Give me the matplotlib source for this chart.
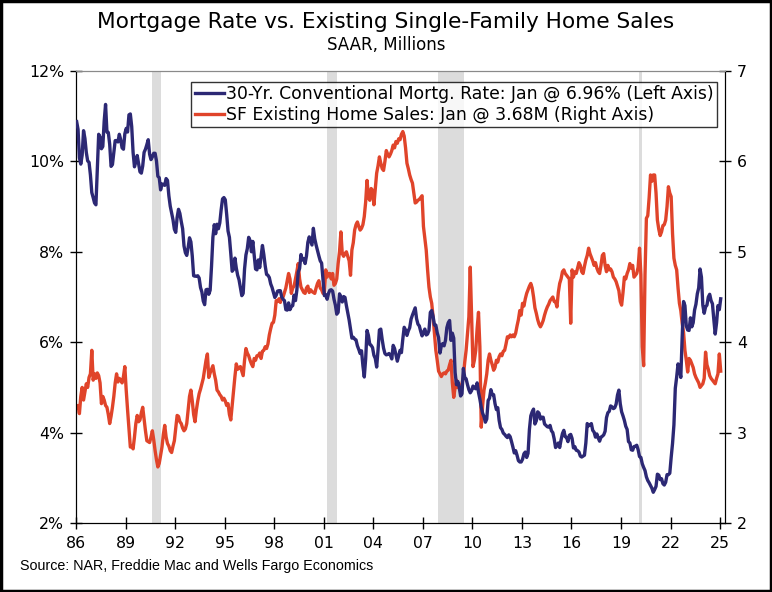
import numpy as np
import matplotlib
matplotlib.use("Agg")
import matplotlib.pyplot as plt
from matplotlib.patches import Rectangle

# ---------------- data ----------------
start_year = 1986
# 30-Yr conventional mortgage rate (%), monthly, Jan 1986 - Jan 2025
mortgage_rate = [
    10.88, 10.71, 10.08, 9.94, 10.14, 10.68, 10.51, 10.20, 10.01, 9.98, 9.70, 9.31,   # 1986
    9.20, 9.08, 9.04, 9.83, 10.60, 10.54, 10.28, 10.33, 10.89, 11.26, 10.65, 10.64,   # 1987
    10.38, 9.89, 9.93, 10.20, 10.46, 10.46, 10.43, 10.60, 10.48, 10.30, 10.27, 10.61, # 1988
    10.73, 10.65, 11.03, 11.05, 10.77, 10.20, 9.88, 9.99, 10.13, 9.95, 9.77, 9.74,    # 1989
    9.90, 10.20, 10.27, 10.37, 10.48, 10.16, 10.04, 10.10, 10.18, 10.18, 10.01, 9.67, # 1990
    9.64, 9.37, 9.50, 9.49, 9.47, 9.62, 9.58, 9.24, 9.01, 8.86, 8.71, 8.50,           # 1991
    8.43, 8.76, 8.94, 8.85, 8.67, 8.51, 8.13, 7.98, 7.92, 8.09, 8.31, 8.22,           # 1992
    7.91, 7.47, 7.46, 7.46, 7.47, 7.42, 7.21, 7.11, 6.91, 6.83, 7.16, 7.17,           # 1993
    7.06, 7.15, 7.68, 8.32, 8.60, 8.40, 8.61, 8.51, 8.64, 8.93, 9.17, 9.20,           # 1994
    9.15, 8.83, 8.46, 8.32, 7.96, 7.57, 7.61, 7.86, 7.64, 7.48, 7.38, 7.20,           # 1995
    7.03, 7.08, 7.62, 7.93, 8.07, 8.32, 8.25, 8.00, 8.23, 7.92, 7.62, 7.60,           # 1996
    7.82, 7.65, 7.90, 8.14, 7.94, 7.69, 7.50, 7.48, 7.43, 7.29, 7.21, 7.10,           # 1997
    6.99, 7.04, 7.13, 7.14, 7.14, 7.00, 6.95, 6.92, 6.72, 6.71, 6.87, 6.72,           # 1998
    6.79, 6.81, 7.04, 6.92, 7.15, 7.55, 7.63, 7.94, 7.82, 7.85, 7.74, 7.91,           # 1999
    8.21, 8.33, 8.24, 8.15, 8.52, 8.29, 8.15, 8.03, 7.91, 7.80, 7.75, 7.38,           # 2000
    7.03, 7.05, 6.95, 7.08, 7.15, 7.16, 7.13, 6.95, 6.82, 6.62, 6.66, 7.07,           # 2001
    7.00, 6.89, 7.01, 6.99, 6.81, 6.65, 6.49, 6.29, 6.09, 6.11, 6.07, 6.05,           # 2002
    5.92, 5.84, 5.75, 5.81, 5.48, 5.23, 5.63, 6.26, 6.15, 5.95, 5.93, 5.88,           # 2003
    5.71, 5.64, 5.45, 5.83, 6.27, 6.29, 6.06, 5.87, 5.75, 5.72, 5.73, 5.75,           # 2004
    5.71, 5.63, 5.93, 5.86, 5.72, 5.58, 5.70, 5.82, 5.77, 6.07, 6.33, 6.27,           # 2005
    6.15, 6.25, 6.32, 6.51, 6.60, 6.68, 6.76, 6.52, 6.40, 6.36, 6.24, 6.14,           # 2006
    6.22, 6.29, 6.16, 6.18, 6.26, 6.66, 6.70, 6.57, 6.38, 6.38, 6.21, 6.10,           # 2007
    5.76, 5.92, 5.97, 5.92, 6.04, 6.32, 6.43, 6.48, 6.04, 6.20, 6.09, 5.33,           # 2008
    5.06, 5.13, 5.00, 4.81, 4.86, 5.42, 5.22, 5.19, 5.06, 4.95, 4.88, 4.93,           # 2009
    5.03, 4.99, 4.97, 5.10, 4.89, 4.74, 4.56, 4.43, 4.35, 4.23, 4.30, 4.71,           # 2010
    4.76, 4.95, 4.84, 4.84, 4.64, 4.51, 4.55, 4.27, 4.11, 4.07, 3.99, 3.96,           # 2011
    3.92, 3.89, 3.95, 3.91, 3.80, 3.68, 3.55, 3.60, 3.50, 3.38, 3.35, 3.35,           # 2012
    3.41, 3.53, 3.57, 3.45, 3.54, 4.07, 4.37, 4.46, 4.52, 4.19, 4.26, 4.46,           # 2013
    4.43, 4.30, 4.34, 4.34, 4.19, 4.16, 4.13, 4.12, 4.16, 4.04, 4.00, 3.86,           # 2014
    3.67, 3.71, 3.77, 3.67, 3.84, 3.98, 4.05, 3.91, 3.89, 3.80, 3.94, 3.96,           # 2015
    3.87, 3.66, 3.69, 3.61, 3.60, 3.57, 3.48, 3.46, 3.48, 3.50, 3.77, 4.20,           # 2016
    4.15, 4.17, 4.20, 4.05, 4.01, 3.90, 3.97, 3.88, 3.81, 3.90, 3.92, 3.95,           # 2017
    4.03, 4.33, 4.44, 4.47, 4.59, 4.57, 4.53, 4.55, 4.63, 4.83, 4.94, 4.64,           # 2018
    4.46, 4.37, 4.27, 4.14, 4.07, 3.80, 3.77, 3.62, 3.61, 3.69, 3.70, 3.72,           # 2019
    3.62, 3.47, 3.45, 3.31, 3.23, 3.16, 3.02, 2.94, 2.89, 2.83, 2.77, 2.68,           # 2020
    2.74, 2.81, 3.08, 3.06, 2.96, 2.98, 2.87, 2.84, 2.90, 3.07, 3.07, 3.10,           # 2021
    3.45, 3.76, 4.17, 4.98, 5.23, 5.52, 5.41, 5.22, 6.11, 6.90, 6.81, 6.36,           # 2022
    6.27, 6.26, 6.54, 6.34, 6.43, 6.71, 6.84, 7.07, 7.20, 7.62, 7.44, 6.82,           # 2023
    6.64, 6.78, 6.82, 7.00, 7.06, 6.92, 6.85, 6.50, 6.18, 6.43, 6.81, 6.72,           # 2024
    6.96,                                                                             # 2025
]

# Single-family existing home sales (SAAR, millions), monthly, Jan 1986 - Jan 2025
home_sales = [
    3.28, 3.30, 3.21, 3.40, 3.50, 3.36, 3.45, 3.54, 3.50, 3.61, 3.65, 3.91,   # 1986
    3.58, 3.65, 3.60, 3.66, 3.63, 3.55, 3.32, 3.40, 3.36, 3.30, 3.28, 3.20,   # 1987
    3.10, 3.18, 3.28, 3.40, 3.55, 3.65, 3.56, 3.60, 3.58, 3.55, 3.62, 3.73,   # 1988
    3.47, 3.25, 3.05, 2.84, 2.85, 2.82, 2.95, 3.10, 3.19, 3.12, 3.14, 3.22,   # 1989
    3.28, 3.15, 3.02, 2.91, 2.90, 2.89, 2.95, 3.02, 2.92, 2.80, 2.70, 2.62,   # 1990
    2.66, 2.75, 2.84, 2.98, 3.08, 2.95, 2.88, 2.85, 2.80, 2.78, 2.85, 2.91,   # 1991
    3.05, 3.19, 3.18, 3.12, 3.10, 3.05, 3.02, 3.04, 3.10, 3.25, 3.40, 3.47,   # 1992
    3.35, 3.20, 3.12, 3.25, 3.35, 3.43, 3.48, 3.54, 3.60, 3.70, 3.80, 3.87,   # 1993
    3.61, 3.66, 3.70, 3.74, 3.65, 3.58, 3.47, 3.45, 3.42, 3.40, 3.36, 3.38,   # 1994
    3.35, 3.30, 3.32, 3.20, 3.14, 3.30, 3.47, 3.62, 3.76, 3.70, 3.72, 3.73,   # 1995
    3.68, 3.63, 3.80, 3.93, 3.88, 3.85, 3.80, 3.76, 3.73, 3.82, 3.80, 3.85,   # 1996
    3.85, 3.88, 3.82, 3.90, 3.91, 3.95, 3.93, 3.98, 4.08, 4.15, 4.21, 4.22,   # 1997
    4.30, 4.46, 4.45, 4.48, 4.44, 4.50, 4.50, 4.55, 4.60, 4.68, 4.76, 4.70,   # 1998
    4.54, 4.60, 4.62, 4.70, 4.78, 4.87, 4.70, 4.61, 4.58, 4.55, 4.54, 4.60,   # 1999
    4.62, 4.55, 4.58, 4.56, 4.55, 4.54, 4.60, 4.65, 4.68, 4.60, 4.58, 4.54,   # 2000
    4.54, 4.80, 4.72, 4.76, 4.76, 4.70, 4.76, 4.63, 4.65, 4.70, 4.87, 5.00,   # 2001
    5.22, 4.98, 4.95, 4.98, 5.00, 4.95, 4.90, 4.74, 5.02, 5.10, 5.24, 5.30,   # 2002
    5.33, 5.28, 5.24, 5.26, 5.30, 5.39, 5.55, 5.79, 5.60, 5.57, 5.70, 5.68,   # 2003
    5.52, 5.70, 5.87, 5.95, 6.05, 5.98, 5.92, 5.90, 6.00, 6.12, 6.08, 6.05,   # 2004
    6.08, 6.12, 6.18, 6.15, 6.22, 6.20, 6.25, 6.24, 6.30, 6.33, 6.28, 6.15,   # 2005
    5.98, 5.92, 5.85, 5.80, 5.76, 5.65, 5.54, 5.55, 5.57, 5.58, 5.60, 5.62,   # 2006
    5.28, 5.15, 5.02, 4.80, 4.61, 4.50, 4.43, 4.28, 4.10, 3.91, 3.80, 3.68,   # 2007
    3.65, 3.62, 3.65, 3.66, 3.65, 3.68, 3.69, 3.75, 3.80, 3.55, 3.39, 3.50,   # 2008
    3.58, 3.50, 3.49, 3.52, 3.54, 3.62, 3.78, 3.91, 4.10, 4.28, 4.83, 4.30,   # 2009
    3.73, 3.80, 3.91, 4.15, 4.33, 3.95, 3.06, 3.30, 3.47, 3.55, 3.65, 3.80,   # 2010
    3.87, 3.80, 3.75, 3.69, 3.72, 3.80, 3.78, 3.84, 3.87, 3.85, 3.90, 3.91,   # 2011
    3.98, 4.06, 4.05, 4.08, 4.06, 4.08, 4.06, 4.10, 4.18, 4.25, 4.35, 4.30,   # 2012
    4.43, 4.40, 4.48, 4.54, 4.58, 4.62, 4.65, 4.60, 4.50, 4.38, 4.32, 4.25,   # 2013
    4.20, 4.17, 4.20, 4.24, 4.30, 4.35, 4.39, 4.42, 4.46, 4.48, 4.50, 4.45,   # 2014
    4.45, 4.39, 4.55, 4.65, 4.70, 4.78, 4.80, 4.76, 4.74, 4.72, 4.70, 4.21,   # 2015
    4.80, 4.72, 4.78, 4.76, 4.82, 4.88, 4.85, 4.78, 4.76, 4.84, 4.91, 4.96,   # 2016
    5.04, 4.98, 4.94, 4.90, 4.85, 4.88, 4.82, 4.78, 4.76, 4.85, 4.96, 4.98,   # 2017
    4.85, 4.78, 4.85, 4.80, 4.81, 4.78, 4.72, 4.70, 4.67, 4.62, 4.57, 4.45,   # 2018
    4.41, 4.55, 4.72, 4.70, 4.76, 4.80, 4.87, 4.82, 4.85, 4.72, 4.74, 4.76,   # 2019
    4.83, 5.04, 4.75, 3.95, 3.74, 4.75, 5.37, 5.40, 5.60, 5.85, 5.78, 5.85,   # 2020
    5.85, 5.65, 5.35, 5.25, 5.18, 5.22, 5.29, 5.30, 5.35, 5.50, 5.72, 5.65,   # 2021
    5.61, 5.20, 4.93, 4.85, 4.80, 4.60, 4.43, 4.35, 4.21, 4.11, 3.91, 3.80,   # 2022
    3.67, 3.82, 3.80, 3.76, 3.72, 3.65, 3.61, 3.58, 3.55, 3.50, 3.52, 3.54,   # 2023
    3.60, 3.89, 3.75, 3.70, 3.63, 3.60, 3.58, 3.56, 3.54, 3.60, 3.65, 3.87,   # 2024
    3.68,                                                                     # 2025
]

recession_start = [1990.58, 2001.17, 2007.92, 2020.08]
recession_end = [1991.17, 2001.83, 2009.50, 2020.25]

year_ticks = list(range(1986, 2026, 3))
year_labels = ["%02d" % (y % 100) for y in year_ticks]
left_ticks = [2, 4, 6, 8, 10, 12]
left_labels = ["2%", "4%", "6%", "8%", "10%", "12%"]
right_ticks = [2, 3, 4, 5, 6, 7]

rate_label = "30-Yr. Conventional Mortg. Rate: Jan @ 6.96% (Left Axis)"
sales_label = "SF Existing Home Sales: Jan @ 3.68M (Right Axis)"
title = "Mortgage Rate vs. Existing Single-Family Home Sales"
subtitle = "SAAR, Millions"
source = "Source: NAR, Freddie Mac and Wells Fargo Economics"

# ---------------- plot ----------------
plt.rcParams['font.family'] = ['DejaVu Sans']
BLUE = '#2c2874'
RED = '#e0442a'

t = start_year + np.arange(len(mortgage_rate)) / 12.0 + 0.04
t2 = start_year + np.arange(len(home_sales)) / 12.0 + 0.04

fig = plt.figure(figsize=(7.72, 5.92), dpi=100)
ax2 = fig.add_axes([76/772, 1-523/592, (725-76)/772, (523-71)/592])
ax = ax2.twinx()   # rate axis drawn on top

for s, e in zip(recession_start, recession_end):
    ax2.axvspan(s, e, color='#dcdcdc', lw=0, zorder=0)

l2, = ax2.plot(t2, home_sales, color=RED, lw=2.4, zorder=2)
l1, = ax.plot(t, mortgage_rate, color=BLUE, lw=2.4, zorder=3)

ax.yaxis.tick_left()
ax.yaxis.set_label_position('left')
ax2.yaxis.tick_right()

ax.set_ylim(2, 12)
ax2.set_ylim(2, 7)
ax2.set_xlim(1986, 2025.3)
ax.set_xlim(1986, 2025.3)

ax.set_yticks(left_ticks)
ax.set_yticklabels(left_labels)
ax2.set_yticks(right_ticks)
ax2.set_yticklabels([str(v) for v in right_ticks])
ax2.set_xticks(year_ticks)
ax2.set_xticklabels(year_labels)

for a in (ax, ax2):
    a.tick_params(axis='both', direction='inout', length=9, width=1, labelsize=11.3, colors='black')
ax.tick_params(axis='y', pad=4)
ax2.tick_params(axis='y', pad=4)
ax2.tick_params(axis='x', pad=5)

for a in (ax, ax2):
    a.spines['top'].set_color('#8a8a8a')
    a.spines['left'].set_color('black')
    a.spines['right'].set_color('black')
    a.spines['bottom'].set_color('black')

leg = ax.legend([l1, l2], [rate_label, sales_label], loc='upper right',
                bbox_to_anchor=((717-76)/(725-76), (523-82)/(523-71)),
                borderaxespad=0, fontsize=12.4, frameon=True, fancybox=False,
                edgecolor='black', handlelength=1.7, handletextpad=0.12,
                labelspacing=0.15, borderpad=0.2)
leg.get_frame().set_linewidth(1.0)

fig.text(0.5, 1-22/592, title, ha='center', va='center', fontsize=15.6)
fig.text(0.5, 1-45/592, subtitle, ha='center', va='center', fontsize=12)
fig.text(20/772, 1-566/592, source, ha='left', va='center', fontsize=10.25,
         family=['Liberation Sans Narrow', 'Liberation Sans', 'DejaVu Sans'])

fig.patches.append(Rectangle((0.0015, 0.002), 0.997, 0.996, transform=fig.transFigure,
                             fill=False, edgecolor='black', lw=2.5))

fig.savefig('out.png', dpi=100)
